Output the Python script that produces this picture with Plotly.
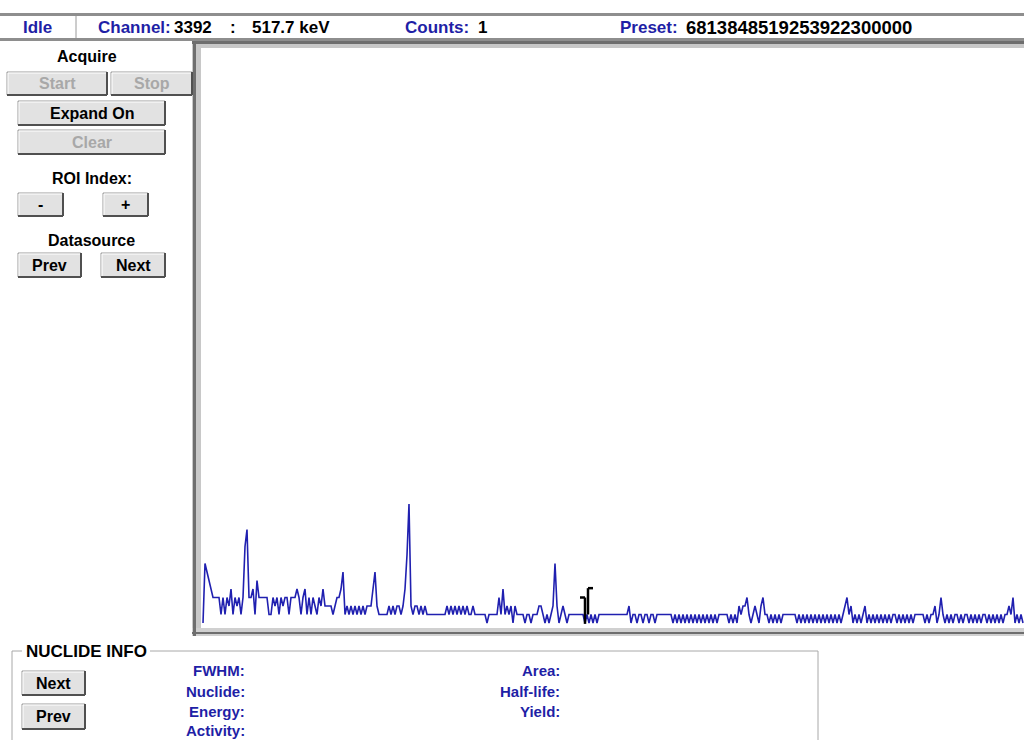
import plotly.graph_objects as go

# ---- spectrum data (counts per displayed bin) ----
counts = [
    0, 7, 6, 5, 4, 3, 3, 3, 3, 1,
    3, 1, 3, 2, 4, 1, 3, 2, 3, 1,
    3, 9, 11, 3, 3, 4, 1, 5, 3, 3,
    3, 3, 3, 1, 1, 3, 2, 3, 1, 3,
    2, 3, 3, 1, 3, 3, 3, 4, 3, 1,
    3, 4, 1, 3, 1, 3, 2, 1, 3, 2,
    4, 2, 2, 2, 2, 1, 2, 3, 3, 4,
    6, 1, 2, 1, 2, 1, 2, 1, 2, 1,
    2, 1, 2, 2, 2, 4, 6, 2, 1, 1,
    1, 1, 1, 2, 1, 2, 1, 2, 2, 1,
    2, 4, 8, 14, 2, 1, 2, 2, 1, 2,
    1, 2, 1, 1, 1, 1, 1, 1, 1, 1,
    1, 1, 2, 1, 2, 1, 2, 1, 2, 1,
    2, 1, 2, 1, 1, 2, 1, 1, 1, 1,
    1, 1, 0, 1, 1, 1, 1, 1, 3, 1,
    4, 1, 2, 1, 2, 0, 2, 1, 1, 1,
    1, 0, 1, 1, 0, 1, 1, 1, 2, 2,
    1, 0, 1, 0, 1, 2, 7, 2, 0, 1,
    2, 1, 0, 1, 1, 1, 1, 1, 1, 1,
    1, 0, 1, 0, 1, 0, 1, 0, 1, 1,
    1, 1, 1, 1, 1, 1, 1, 1, 1, 1,
    1, 1, 1, 2, 0, 1, 1, 0, 1, 1,
    0, 1, 1, 0, 1, 1, 0, 1, 1, 1,
    1, 1, 1, 1, 1, 0, 1, 0, 1, 0,
    1, 0, 1, 0, 1, 0, 1, 0, 1, 0,
    1, 0, 1, 0, 1, 0, 1, 0, 1, 1,
    1, 1, 1, 0, 1, 0, 1, 0, 2, 1,
    2, 2, 3, 1, 0, 1, 2, 1, 0, 2,
    3, 1, 1, 0, 1, 0, 1, 0, 1, 0,
    1, 1, 1, 1, 1, 1, 1, 0, 1, 0,
    1, 0, 1, 0, 1, 0, 1, 0, 1, 0,
    1, 0, 1, 0, 1, 0, 1, 0, 1, 0,
    1, 2, 3, 1, 2, 0, 1, 0, 1, 0,
    1, 2, 0, 1, 0, 1, 0, 1, 0, 1,
    0, 1, 0, 1, 0, 1, 1, 0, 1, 0,
    1, 0, 1, 0, 1, 0, 1, 1, 1, 1,
    1, 0, 1, 0, 1, 1, 2, 0, 1, 3,
    1, 0, 1, 0, 1, 0, 1, 1, 0, 1,
    0, 1, 1, 0, 1, 0, 1, 0, 1, 0,
    1, 1, 0, 1, 0, 1, 0, 1, 0, 1,
    0, 1, 1, 2, 1, 3, 0, 1, 0, 1,
    0,
]
bins = list(range(len(counts)))
cursor_bin = 191

# ---- status bar / panel text ----
status_state = "Idle"
channel_no = "3392"
channel_energy = "517.7 keV"
counts_value = "1"
preset_value = "6813848519253922300000"
nuclide_left_labels = ["FWHM:", "Nuclide:", "Energy:", "Activity:"]
nuclide_right_labels = ["Area:", "Half-life:", "Yield:"]

BLUE = "#1f1fa6"
LINE_BLUE = "#2020b0"
FONT = "Liberation Sans"

shapes = []
annotations = []


def rect(x0, y0, x1, y1, fill, line=None, lw=0):
    shapes.append(dict(type="rect", xref="x2", yref="y2", x0=x0, y0=y0, x1=x1, y1=y1,
                       fillcolor=fill, line=dict(color=line or fill, width=lw), layer="above"))


def seg(x0, y0, x1, y1, color, lw=1):
    shapes.append(dict(type="line", xref="x2", yref="y2", x0=x0, y0=y0, x1=x1, y1=y1,
                       line=dict(color=color, width=lw), layer="above"))


def text(x, y, s, color="black", size=15, anchor="left", bold=True):
    annotations.append(dict(xref="x2", yref="y2", x=x, y=y, text=f"<b>{s}</b>" if bold else s,
                            showarrow=False, xanchor=anchor, yanchor="middle",
                            font=dict(family=FONT, size=size, color=color)))


def button(x0, y0, x1, y1, label, enabled=True, size=16):
    rect(x0, y0, x1, y1, "#e2e2e2", "#9a9a9a", 1)
    seg(x0 + 1, y0 + 1, x1 - 1, y0 + 1, "#ffffff", 1)
    seg(x0 + 1, y0 + 1, x0 + 1, y1 - 1, "#ffffff", 1)
    seg(x0, y1, x1, y1, "#505050", 2)
    seg(x1, y0, x1, y1, "#505050", 2)
    text((x0 + x1) / 2, (y0 + y1) / 2, label, "black" if enabled else "#a8a8a8", size, "center")


# status bar
rect(0, 13, 1024, 16, "#8e8e8e")
rect(0, 38, 1024, 41, "#8e8e8e")
seg(76, 16, 76, 38, "#9a9a9a", 1)
text(21, 27, status_state, BLUE, 17)
text(96, 27, "Channel:", BLUE, 17)
text(172, 27, channel_no, "black", 17)
text(228, 27, ":", "black", 17)
text(250, 27, channel_energy, "black", 17)
text(403, 27, "Counts:", BLUE, 17)
text(476, 27, counts_value, "black", 17)
text(618, 27, "Preset:", BLUE, 17)
text(684, 27, preset_value, "black", 18.5)

# spectrum frame (sunken border)
rect(192, 41, 201, 636, "#c8c8c8")
rect(192, 41, 1024, 48, "#c8c8c8")
rect(192, 628, 1024, 636, "#d0d0d0")
rect(192, 41, 1024, 44, "#6e6e6e")
rect(193, 41, 196, 636, "#6e6e6e")
seg(192, 633, 1024, 633, "#6e6e6e", 2)

# acquisition controls
text(87, 56, "Acquire", "black", 16, "center")
button(7, 72, 107, 95, "Start", enabled=False)
button(111, 72, 192, 95, "Stop", enabled=False)
button(18, 101, 165, 125, "Expand On")
button(18, 130, 165, 154, "Clear", enabled=False)
text(92, 178, "ROI Index:", "black", 16, "center")
button(18, 193, 63, 216, "-")
button(103, 193, 148, 216, "+")
text(91, 240, "Datasource", "black", 16, "center")
button(18, 253, 81, 277, "Prev")
button(101, 253, 165, 277, "Next")

# nuclide info group box
seg(12, 651, 22, 651, "#a8a8a8", 1)
seg(150, 651, 818, 651, "#a8a8a8", 1)
seg(12, 651, 12, 740, "#a8a8a8", 1)
seg(818, 651, 818, 740, "#a8a8a8", 1)
text(24, 651, "NUCLIDE INFO", "black", 17)
button(22, 671, 85, 695, "Next")
button(22, 704, 85, 729, "Prev")
for lab, yy in zip(nuclide_left_labels, [670, 691, 711, 730]):
    text(247, yy, lab, BLUE, 15, "right")
for lab, yy in zip(nuclide_right_labels, [670, 691, 711]):
    text(562, yy, lab, BLUE, 15, "right")

# ROI cursor markers on the spectrum
cur_shapes = [
    dict(x0=cursor_bin, y0=-0.1, x1=cursor_bin, y1=3.0),
    dict(x0=cursor_bin - 2.5, y0=3.0, x1=cursor_bin, y1=3.0),
    dict(x0=cursor_bin + 1.5, y0=1.0, x1=cursor_bin + 1.5, y1=4.1),
    dict(x0=cursor_bin + 1.5, y0=4.1, x1=cursor_bin + 4, y1=4.1),
]
for c in cur_shapes:
    shapes.append(dict(type="line", xref="x", yref="y", line=dict(color="black", width=2.5),
                       layer="above", **c))

fig = go.Figure()
fig.add_trace(go.Scatter(x=bins, y=counts, mode="lines",
                         line=dict(color=LINE_BLUE, width=1.6), hoverinfo="skip"))
fig.add_trace(go.Scatter(x=[None], y=[None], xaxis="x2", yaxis="y2", hoverinfo="skip"))

fig.update_layout(
    width=1024, height=740, margin=dict(l=0, r=0, t=0, b=0),
    paper_bgcolor="white", plot_bgcolor="rgba(0,0,0,0)", showlegend=False,
    xaxis=dict(domain=[201 / 1024, 1], range=[-1, 410.5], visible=False, fixedrange=True),
    yaxis=dict(domain=[(740 - 627) / 740, (740 - 48) / 740], range=[-0.47, 67.65],
               visible=False, fixedrange=True),
    xaxis2=dict(domain=[0, 1], range=[0, 1024], visible=False, anchor="y2", fixedrange=True),
    yaxis2=dict(domain=[0, 1], range=[740, 0], visible=False, anchor="x2", fixedrange=True),
    shapes=shapes, annotations=annotations,
)

fig.write_html("out.html", config={"displayModeBar": False})
